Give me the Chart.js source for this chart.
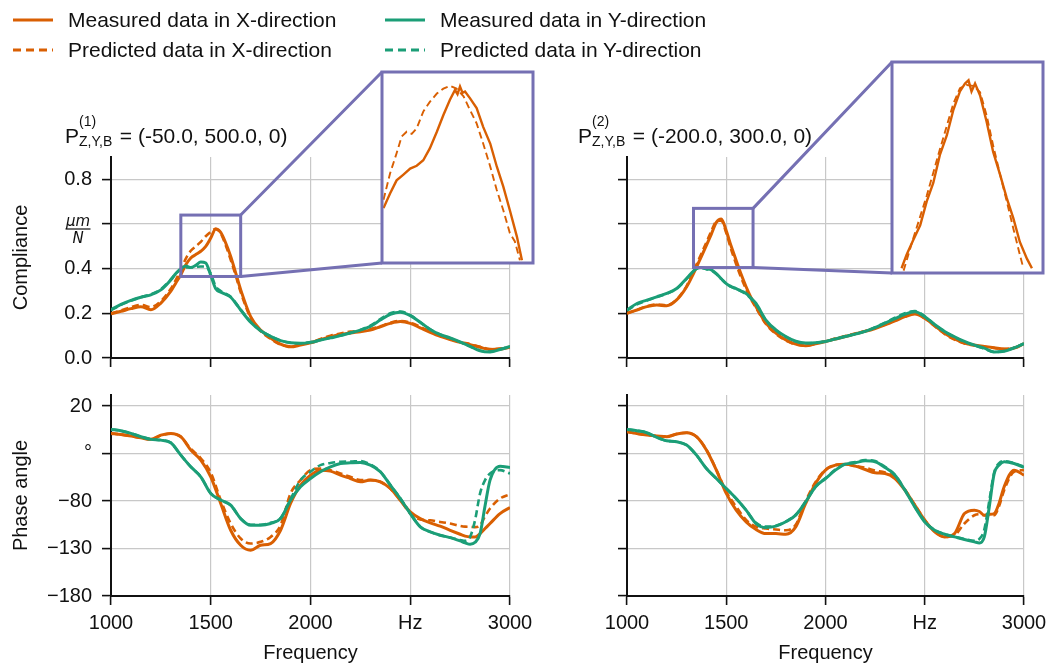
<!DOCTYPE html>
<html>
<head>
<meta charset="utf-8">
<title>Compliance and phase angle</title>
<script src="https://cdn.jsdelivr.net/npm/chart.js@4.4.1/dist/chart.umd.min.js"></script>
<style>
  html, body { margin: 0; padding: 0; background: #fff; }
  body { width: 1051px; height: 665px; position: relative; overflow: hidden;
         font-family: 'Liberation Sans', Arial, sans-serif; color: #111; }
  canvas { position: absolute; left: 0; top: 0; }
  .leg { position: absolute; height: 24px; line-height: 24px; font-size: 21px; white-space: nowrap; }
  .leg svg { position: absolute; left: 0; top: 0; }
  .leg span { position: absolute; left: 55px; top: 0; }
  .ptitle { position: absolute; font-size: 21px; line-height: 24px; white-space: nowrap; }
  .ptitle .ss { display: inline-block; position: relative; width: 35px; height: 1px; }
  .ptitle .sup, .ptitle .sub { position: absolute; left: 0; font-size: 14px; line-height: 16px; }
  .ptitle .sup { top: -29px; }
  .ptitle .sub { top: -9px; }
</style>
</head>
<body>
<canvas id="c-tl" width="1051" height="665"></canvas>
<canvas id="c-tr" width="1051" height="665"></canvas>
<canvas id="c-bl" width="1051" height="665"></canvas>
<canvas id="c-br" width="1051" height="665"></canvas>
<canvas id="c-il" width="1051" height="665"></canvas>
<canvas id="c-ir" width="1051" height="665"></canvas>
<div id="legend"></div>
<div class="ptitle" style="left:65px; top:124px">P<span class="ss"><span class="sup">(1)</span><span class="sub">Z,Y,B</span></span> = (-50.0, 500.0, 0)</div>
<div class="ptitle" style="left:578px; top:124px">P<span class="ss"><span class="sup">(2)</span><span class="sub">Z,Y,B</span></span> = (-200.0, 300.0, 0)</div>
<script>
// ---- dati ----
const seriesLabels = ['Measured data in X-direction', 'Predicted data in X-direction',
                      'Measured data in Y-direction', 'Predicted data in Y-direction'];

const xTicks = [1000, 1500, 2000, 2500, 3000];
const xTickLabels = ['1000', '1500', '2000', 'Hz', '3000'];
const complTicks = [0, 0.2, 0.4, 0.6, 0.8];
const complTickLabels = ['0.0', '0.2', '0.4', '', '0.8'];
const complUnit = ['\u03bcm', 'N'];
const phaseTicks = [-180, -130, -80, -30, 20];
const phaseTickLabels = ['\u2212180', '\u2212130', '\u221280', '\u00b0', '20'];

// compliance (um/N)
const freqC = [1000,1050,1100,1150,1200,1250,1300,1325,1350,1375,1400,1425,1450,1475,1500,1525,1550,1575,1600,1625,1650,
               1700,1750,1800,1850,1900,1950,2000,2050,2100,2150,2200,2250,2300,2350,2400,2450,2500,2550,2600,2650,2700,
               2750,2800,2850,2900,2950,3000];
const complMeasX1 = [.198,.209,.221,.230,.216,.246,.299,.336,.373,.418,.448,.463,.478,.500,.537,.578,.563,.515,.455,.381,.306,
                     .185,.125,.090,.062,.050,.058,.068,.082,.095,.105,.112,.118,.125,.140,.155,.163,.155,.135,.115,.097,.083,
                     .070,.060,.048,.038,.040,.048];
const complPredX1 = [.200,.213,.228,.238,.228,.255,.310,.350,.395,.445,.480,.500,.520,.545,.565,.578,.558,.505,.440,.370,.295,
                     .180,.120,.086,.060,.052,.060,.070,.085,.100,.110,.118,.122,.130,.142,.158,.166,.158,.140,.118,.100,.085,
                     .072,.062,.050,.040,.042,.050];
const complMeasY1 = [.216,.240,.258,.272,.283,.305,.350,.378,.400,.412,.405,.415,.430,.425,.370,.310,.295,.285,.272,.245,.215,
                     .160,.122,.097,.078,.068,.066,.070,.080,.090,.100,.112,.125,.142,.170,.195,.205,.190,.160,.128,.105,.090,
                     .072,.052,.032,.027,.038,.052];
const complPredY1 = [.214,.238,.256,.272,.285,.308,.352,.378,.396,.405,.405,.407,.410,.410,.378,.320,.300,.288,.274,.247,.217,
                     .162,.124,.098,.078,.068,.066,.071,.081,.091,.101,.113,.126,.145,.174,.200,.208,.192,.160,.128,.105,.089,
                     .071,.052,.034,.029,.039,.052];
const complMeasX2 = [.200,.215,.230,.237,.234,.260,.318,.360,.407,.455,.504,.555,.607,.622,.570,.500,.437,.375,.319,.270,.230,
                     .156,.111,.081,.062,.055,.064,.074,.085,.096,.108,.119,.132,.148,.166,.185,.197,.178,.145,.111,.085,.067,
                     .058,.052,.046,.040,.044,.064];
const complPredX2 = [.200,.216,.232,.240,.236,.262,.322,.368,.418,.468,.518,.568,.612,.615,.560,.485,.420,.360,.308,.262,.225,
                     .152,.108,.078,.060,.055,.064,.075,.087,.098,.110,.121,.134,.150,.170,.190,.200,.178,.142,.108,.082,.065,
                     .056,.050,.045,.040,.046,.064];
const complMeasY2 = [.215,.244,.259,.274,.289,.311,.356,.380,.400,.405,.400,.395,.378,.355,.333,.320,.311,.300,.289,.268,.244,
                     .170,.126,.096,.075,.067,.068,.074,.085,.096,.107,.119,.136,.156,.176,.196,.207,.185,.150,.119,.095,.074,
                     .058,.044,.027,.030,.045,.064];
const complPredY2 = [.213,.240,.257,.273,.288,.310,.354,.380,.400,.403,.398,.392,.376,.354,.333,.318,.309,.298,.286,.265,.240,
                     .168,.124,.095,.074,.066,.068,.075,.086,.097,.108,.120,.138,.158,.180,.200,.210,.187,.150,.118,.093,.072,
                     .056,.042,.027,.031,.046,.064];

// phase angle (deg)
const freqP = [1000,1050,1100,1150,1200,1250,1300,1350,1400,1450,1500,1550,1600,1650,1700,1750,1800,1850,1900,1950,2000,
               2050,2100,2150,2200,2250,2300,2350,2400,2450,2500,2550,2600,2650,2700,2750,2775,2800,2825,2850,2875,2900,
               2950,3000];
const phaseMeasX1 = [-8.8,-10,-11.6,-13.5,-15.1,-10.6,-8.8,-12.3,-26.4,-36.9,-54.5,-82.6,-110.8,-126.6,-131.8,-126.6,-124.8,
                     -110.8,-82.6,-63.3,-52.8,-47.5,-48.5,-52.8,-56.3,-59.8,-58,-59.8,-66.8,-79.1,-91.4,-98.5,-103,-106.5,
                     -110.8,-115,-117,-117.8,-117.8,-114.3,-109,-103.7,-93.2,-86.9];
const phasePredX1 = [-8.8,-10,-11.6,-13.5,-15,-11,-9,-12.5,-25,-35,-50,-79,-103.7,-119.5,-124.8,-123,-117.8,-105.5,-72,-58,
                     -47.5,-45.7,-47.5,-51,-54.5,-58,-58,-59.8,-66.8,-79.1,-93.2,-99.5,-100.3,-102,-103.7,-106.2,-107,-107.2,
                     -107.5,-105.5,-96,-87.9,-77.4,-72.8];
const phaseMeasY1 = [-4.6,-6,-8.8,-12.3,-15.1,-15.9,-18.7,-31.7,-44,-54.5,-72,-79,-84.4,-98.5,-105.5,-105.5,-103.7,-98.5,
                     -79.1,-65,-56.3,-49.2,-44,-40.5,-39.8,-39.4,-42.2,-49.2,-63.3,-77.4,-93.2,-107.2,-112.5,-116,-118.5,-122,
                     -124,-125.5,-123.5,-114.3,-85,-58,-43.3,-44.7];
const phasePredY1 = [-4.6,-6,-8.8,-12.3,-15.1,-15.9,-18.7,-31.7,-44,-54.5,-72,-79,-84.4,-98.5,-105,-105,-103,-98,-78,-58,
                     -49.2,-42.2,-40,-38.7,-38.5,-38,-41.5,-49,-63,-77,-93,-107,-112.5,-116,-118.5,-121,-122,-117.8,-100,-72,
                     -58,-51,-47.5,-51];
const phaseMeasX2 = [-7.1,-9,-10.6,-11.5,-12.3,-9.5,-8.1,-12.3,-26.4,-47.5,-72,-89.6,-101.9,-110,-114.3,-114.3,-115,-107.2,
                     -82.6,-61.5,-47.5,-42.2,-41.2,-43.3,-46.8,-50.3,-51,-56.3,-68.6,-84.4,-100.2,-112.5,-117.8,-114.3,-93.2,
                     -89.6,-91,-95,-94,-93.2,-82,-65,-47.5,-52.8];
const phasePredX2 = [-7.1,-9,-10.6,-11.5,-12.3,-9.5,-8.1,-12.3,-26,-47,-70,-86,-100,-107,-109,-110,-110.8,-105,-80,-60,-47,
                     -42,-41.5,-43,-45,-48,-50,-55,-68,-84,-100,-112,-117.8,-116,-103.7,-95,-94,-95,-95,-95,-85,-68.6,-49.2,
                     -47.5];
const phaseMeasY2 = [-4.6,-6,-8.1,-13,-16.6,-17.6,-21.1,-31.7,-45.7,-56.3,-66.8,-77.4,-89.6,-103.7,-107.9,-106.5,-101.9,-94.9,
                     -80.9,-65,-56.3,-47.5,-41.2,-39.8,-37.6,-38.7,-44.7,-52.8,-68.6,-86.2,-102,-110.8,-115,-117.8,-120.6,-123,
                     -124.1,-117.8,-86.2,-51,-42,-38.7,-40.5,-44.7];
const phasePredY2 = [-4.6,-6,-8.1,-13,-16.6,-17.6,-21.1,-31.7,-45.7,-56.3,-66.8,-77.4,-89.6,-103,-107,-106,-101.5,-94.5,-80.5,
                     -65,-56,-47,-41,-39,-37,-38,-44,-52.5,-68,-86,-101.5,-110.5,-115,-117.5,-120,-122,-120,-110,-80,-50,-40,
                     -38,-40,-44];

// zoom (inset) sul picco in X
const insetRange1 = { x: [1350, 1650], y: [0.365, 0.64] };
const insetFreqMeas1 = [1353,1366,1379,1392,1406,1419,1432,1445,1459,1472,1485,1495,1500,1505,1510,1515,1525,1538,1551,1565,
                        1578,1591,1604,1618,1628];
const insetMeas1 = [.444,.465,.484,.492,.501,.505,.513,.530,.554,.578,.600,.614,.608,.619,.610,.612,.602,.588,.561,.537,
                    .504,.475,.441,.403,.369];
const insetFreqPred1 = [1353,1366,1379,1389,1399,1409,1419,1432,1445,1459,1472,1485,1498,1512,1525,1538,1551,1565,1578,1591,
                        1604,1614,1624];
const insetPred1 = [.456,.494,.523,.547,.554,.551,.559,.583,.597,.609,.616,.620,.616,.605,.585,.566,.537,.504,.470,.441,
                    .408,.396,.369];
const insetRange2 = { x: [1335, 1635], y: [0.405, 0.67] };
const insetFreqMeas2 = [1354,1364,1377,1391,1404,1417,1430,1444,1457,1470,1480,1487,1493,1500,1510,1523,1536,1550,1563,1576,
                        1589,1603,1613];
const insetMeas2 = [.411,.428,.446,.465,.495,.518,.553,.578,.610,.633,.643,.647,.633,.643,.628,.595,.557,.528,.499,.474,
                    .444,.423,.411];
const insetFreqPred2 = [1358,1377,1404,1430,1457,1470,1483,1497,1510,1523,1536,1550,1563,1576,1589,1596];
const insetPred2 = [.408,.448,.502,.560,.618,.637,.641,.640,.632,.603,.565,.528,.495,.461,.428,.411];

// ---- stile ----
const W = 1051, H = 665;
const ORANGE = '#d95f02', GREEN = '#1b9e77', PURPLE = '#7570b3';
const FONT = "'Liberation Sans', Arial, sans-serif";
Chart.defaults.font.family = FONT;
Chart.defaults.color = '#111';
Chart.defaults.animation = false;
Chart.defaults.events = [];

function serie(label, xs, ys, color, dashed, width, smooth = true) {
    return {
        label,
        data: xs.map((x, i) => ({ x, y: ys[i] })),
        borderColor: color,
        borderWidth: width,
        borderDash: dashed ? [7, 4] : [],
        pointRadius: 0,
        fill: false,
        cubicInterpolationMode: smooth ? 'monotone' : 'default'
    };
}

// tick fissi, niente tick extra al max
const fixTicks = values => s => { s.ticks = values.map(v => ({ value: v })); };

const grid = { color: '#c8c8c8', lineWidth: 1.2, tickColor: '#111', tickWidth: 1.6, tickLength: 9 };
const border = { color: '#111', width: 2 };

function panel(id, c) {
    const a = c.area;
    return new Chart(document.getElementById(id), {
        type: 'line',
        data: { datasets: c.datasets },
        options: {
            responsive: false,
            layout: { padding: { left: a.l - c.yW, top: a.t, right: W - a.r, bottom: H - a.b - c.xH } },
            plugins: { legend: { display: false }, tooltip: { enabled: false } },
            scales: {
                x: {
                    type: 'linear', min: 1000, max: 3000,
                    afterBuildTicks: fixTicks(xTicks),
                    afterFit: s => { s.height = c.xH; s.paddingLeft = s.paddingRight = 0; },
                    ticks: { autoSkip: false, maxRotation: 0, padding: 6, font: { size: 20 },
                             callback: (v, i) => c.xLabels ? xTickLabels[i] : '' },
                    grid, border,
                    title: { display: c.xLabels, text: 'Frequency', font: { size: 20 }, padding: { top: 0, bottom: 0 } }
                },
                y: {
                    type: 'linear', min: c.yMin, max: c.yMax,
                    afterBuildTicks: fixTicks(c.yTicks),
                    afterFit: s => { s.width = c.yW; s.paddingTop = s.paddingBottom = 0; },
                    ticks: { autoSkip: false, padding: 10, font: { size: 20 },
                             callback: (v, i) => c.yLabels ? c.yTickLabels[i] : '' },
                    grid, border,
                    title: { display: !!c.yTitle, text: c.yTitle, font: { size: 20 }, padding: { top: 9 } }
                }
            }
        },
        plugins: c.plugins || []
    });
}

// unita' um/N scritta come frazione sul tick 0.6
const unitPlugin = {
    id: 'unit',
    afterDraw(chart) {
        const ctx = chart.ctx;
        const y = chart.scales.y.getPixelForValue(0.6);
        const cx = 78;
        ctx.save();
        ctx.fillStyle = '#111';
        ctx.textAlign = 'center';
        ctx.textBaseline = 'alphabetic';
        ctx.font = "italic 15px 'DejaVu Sans'";
        ctx.fillText(complUnit[0], cx, y + 1.5);
        ctx.fillText(complUnit[1], cx, y + 18.5);
        ctx.strokeStyle = '#111';
        ctx.lineWidth = 1.2;
        ctx.beginPath();
        ctx.moveTo(cx - 12.5, y + 5);
        ctx.lineTo(cx + 12.5, y + 5);
        ctx.stroke();
        ctx.restore();
    }
};

function fourSeries(xs, mx, px, my, py) {
    return [
        serie(seriesLabels[2], xs, my, GREEN, false, 3),
        serie(seriesLabels[3], xs, py, GREEN, true, 2.6),
        serie(seriesLabels[0], xs, mx, ORANGE, false, 3),
        serie(seriesLabels[1], xs, px, ORANGE, true, 2.6)
    ];
}

const chartTL = panel('c-tl', {
    area: { l: 111, t: 157, r: 510, b: 358 }, yW: 111, xH: 20,
    xLabels: false, yLabels: true, yTicks: complTicks, yTickLabels: complTickLabels,
    yMin: 0, yMax: 0.9, yTitle: 'Compliance',
    datasets: fourSeries(freqC, complMeasX1, complPredX1, complMeasY1, complPredY1),
    plugins: [unitPlugin]
});
const chartTR = panel('c-tr', {
    area: { l: 627, t: 157, r: 1024, b: 358 }, yW: 40, xH: 20,
    xLabels: false, yLabels: false, yTicks: complTicks, yTickLabels: complTickLabels,
    yMin: 0, yMax: 0.9,
    datasets: fourSeries(freqC, complMeasX2, complPredX2, complMeasY2, complPredY2)
});
panel('c-bl', {
    area: { l: 111, t: 395, r: 510, b: 596 }, yW: 111, xH: 69,
    xLabels: true, yLabels: true, yTicks: phaseTicks, yTickLabels: phaseTickLabels,
    yMin: -180, yMax: 31.6, yTitle: 'Phase angle',
    datasets: fourSeries(freqP, phaseMeasX1, phasePredX1, phaseMeasY1, phasePredY1)
});
panel('c-br', {
    area: { l: 627, t: 395, r: 1024, b: 596 }, yW: 40, xH: 69,
    xLabels: true, yLabels: false, yTicks: phaseTicks, yTickLabels: phaseTickLabels,
    yMin: -180, yMax: 31.6,
    datasets: fourSeries(freqP, phaseMeasX2, phasePredX2, phaseMeasY2, phasePredY2)
});

// riquadro di zoom con i due segmenti di collegamento
function inset(id, host, box, range, datasets) {
    return new Chart(document.getElementById(id), {
        type: 'line',
        data: { datasets },
        options: {
            responsive: false,
            layout: { padding: { left: box.l, top: box.t, right: W - box.r, bottom: H - box.b } },
            plugins: { legend: { display: false }, tooltip: { enabled: false } },
            scales: {
                x: { type: 'linear', display: false, min: range.x[0], max: range.x[1] },
                y: { type: 'linear', display: false, min: range.y[0], max: range.y[1] }
            }
        },
        plugins: [{
            id: 'zoomFrame',
            beforeDraw(chart) {
                const { ctx, chartArea: a } = chart;
                ctx.save();
                ctx.fillStyle = '#fff';
                ctx.fillRect(a.left, a.top, a.width, a.height);
                ctx.restore();
            },
            afterDraw(chart) {
                const { ctx, chartArea: a } = chart;
                const hx = host.scales.x, hy = host.scales.y;
                const x0 = hx.getPixelForValue(range.x[0]), x1 = hx.getPixelForValue(range.x[1]);
                const y0 = hy.getPixelForValue(range.y[1]), y1 = hy.getPixelForValue(range.y[0]);
                ctx.save();
                ctx.strokeStyle = PURPLE;
                ctx.lineWidth = 3;
                ctx.strokeRect(a.left, a.top, a.width, a.height);
                ctx.strokeRect(x0, y0, x1 - x0, y1 - y0);
                ctx.beginPath();
                ctx.moveTo(x1, y0); ctx.lineTo(a.left, a.top);
                ctx.moveTo(x1, y1); ctx.lineTo(a.left, a.bottom);
                ctx.stroke();
                ctx.restore();
            }
        }]
    });
}

inset('c-il', chartTL, { l: 382, t: 72, r: 533, b: 263 }, insetRange1, [
    serie(seriesLabels[0], insetFreqMeas1, insetMeas1, ORANGE, false, 2.4, false),
    serie(seriesLabels[1], insetFreqPred1, insetPred1, ORANGE, true, 1.9, false)
]);
inset('c-ir', chartTR, { l: 892, t: 62, r: 1043, b: 273 }, insetRange2, [
    serie(seriesLabels[0], insetFreqMeas2, insetMeas2, ORANGE, false, 2.4, false),
    serie(seriesLabels[1], insetFreqPred2, insetPred2, ORANGE, true, 1.9, false)
]);

// legenda 2x2
const legendPos = [[13, 8], [13, 38], [385, 8], [385, 38]];
const legendStyle = [[ORANGE, ''], [ORANGE, '8 5'], [GREEN, ''], [GREEN, '8 5']];
const legend = document.getElementById('legend');
seriesLabels.forEach((txt, i) => {
    const d = document.createElement('div');
    d.className = 'leg';
    d.style.left = legendPos[i][0] + 'px';
    d.style.top = legendPos[i][1] + 'px';
    const [col, dash] = legendStyle[i];
    d.innerHTML = `<svg width="42" height="24"><line x1="0" y1="12" x2="40" y2="12" stroke="${col}" stroke-width="2.8"` +
        (dash ? ` stroke-dasharray="${dash}"` : '') + `/></svg><span>${txt}</span>`;
    legend.appendChild(d);
});
</script>
</body>
</html>
